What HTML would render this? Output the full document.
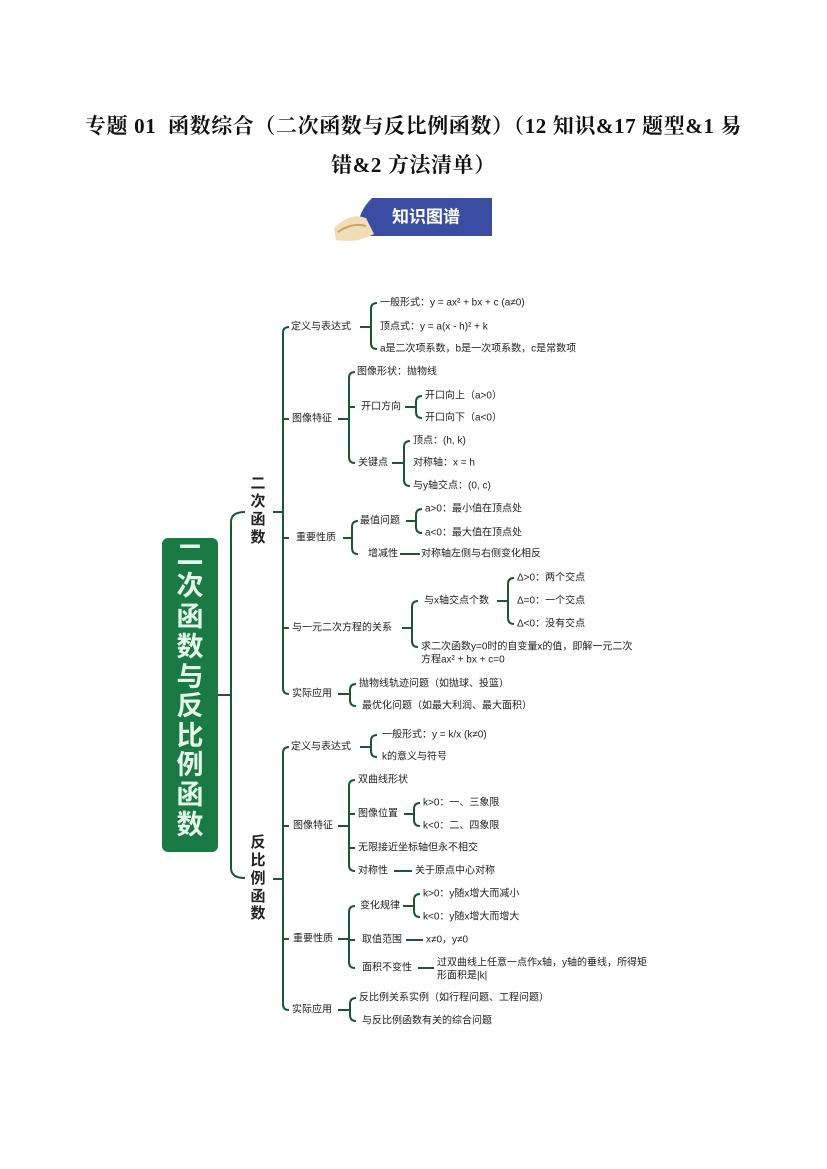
<!DOCTYPE html>
<html><head><meta charset="utf-8"><style>
html,body{margin:0;padding:0;background:#fff}
body{width:827px;height:1169px;position:relative;overflow:hidden}
.t{position:absolute;left:0;width:827px;text-align:center;font-family:"Liberation Serif","Noto Serif CJK SC",serif;font-weight:bold;font-size:21px;letter-spacing:0.6px;color:#111}
svg{position:absolute;left:0;top:0}
</style></head><body>
<div class="t" style="top:110px">专题 01&nbsp; 函数综合（二次函数与反比例函数）（12 知识&amp;17 题型&amp;1 易</div>
<div class="t" style="top:149px">错&amp;2 方法清单）</div>
<svg width="827" height="1169" viewBox="0 0 827 1169" font-family="Liberation Sans, Noto Sans CJK SC, sans-serif">
<path d="M372 198 H492 V236 H360 Q354 216 372 198 Z" fill="#3b4ca3"/>
<path d="M334 228 Q350 212 366 218 L374 234 Q356 244 336 240 Z" fill="#f1dcb8"/>
<path d="M338 232 Q352 222 366 226" stroke="#c9a36d" stroke-width="2" fill="none"/>
<text x="426" y="218" font-size="17" font-weight="bold" fill="#fff" text-anchor="middle" dominant-baseline="middle">知识图谱</text>
<rect x="162" y="538" width="56" height="314" rx="6" fill="#1a7a45"/>
<g font-size="27" font-weight="bold" fill="#e6f7ea" text-anchor="middle" dominant-baseline="middle">
<text x="190" y="557">二</text><text x="190" y="588">次</text><text x="190" y="619">函</text><text x="190" y="649">数</text><text x="190" y="679">与</text><text x="190" y="708">反</text><text x="190" y="738">比</text><text x="190" y="767">例</text><text x="190" y="797">函</text><text x="190" y="827">数</text>
</g>
<g stroke="#1e5538" stroke-width="2" fill="none">
<path d="M218 695 H231 M245 512 Q231 512 231 522 V868 Q231 878 245 878"/>
<path d="M273 512 H283 M289 327 Q283 327 283 333 V688 Q283 694 289 694 M283 419 H289 M283 538 H289 M283 628 H289"/>
<path d="M360 327 H371 M377 303 Q371 303 371 309 V343 Q371 349 377 349"/>
<path d="M338 419 H349 M355 372 Q349 372 349 378 V457 Q349 463 355 463 M349 407 H355"/>
<path d="M405 407 H416 M422 396 Q416 396 416 402 V412 Q416 418 422 418"/>
<path d="M392 463 H404 M410 441 Q404 441 404 447 V480 Q404 486 410 486"/>
<path d="M343 538 H352 M358 521 Q352 521 352 527 V548 Q352 554 358 554"/>
<path d="M406 521 H416 M422 509 Q416 509 416 515 V527 Q416 533 422 533"/>
<path d="M400 554 H420"/>
<path d="M402 628 H412 M418 601 Q412 601 412 607 V641 Q412 647 418 647"/>
<path d="M497 601 H508 M514 578 Q508 578 508 584 V618 Q508 624 514 624"/>
<path d="M338 694 H350 M356 684 Q350 684 350 690 V700 Q350 706 356 706"/>
<path d="M273 879 H283 M289 747 Q283 747 283 753 V1004 Q283 1010 289 1010 M283 826 H289 M283 939 H289"/>
<path d="M360 747 H371 M377 735 Q371 735 371 741 V751 Q371 757 377 757"/>
<path d="M338 826 H349 M355 780 Q349 780 349 786 V865 Q349 871 355 871 M349 814 H355 M349 848 H355"/>
<path d="M404 814 H414 M420 803 Q414 803 414 809 V820 Q414 826 420 826"/>
<path d="M394 871 H412"/>
<path d="M338 939 H349 M355 906 Q349 906 349 912 V962 Q349 968 355 968 M349 940 H355"/>
<path d="M403 906 H414 M420 894 Q414 894 414 900 V911 Q414 917 420 917"/>
<path d="M406 940 H423"/>
<path d="M418 968 H434"/>
<path d="M338 1010 H350 M356 998 Q350 998 350 1004 V1015 Q350 1021 356 1021"/>
</g>
<g font-size="15" font-weight="bold" fill="#222" text-anchor="middle" dominant-baseline="middle">
<text x="258" y="484">二</text><text x="258" y="502">次</text><text x="258" y="520">函</text><text x="258" y="538">数</text>
<text x="258" y="843">反</text><text x="258" y="861">比</text><text x="258" y="879">例</text><text x="258" y="897">函</text><text x="258" y="914">数</text>
</g>
<g font-size="10" fill="#222" dominant-baseline="middle">
<text x="291" y="327">定义与表达式</text>
<text x="380" y="303">一般形式：y = ax² + bx + c (a≠0)</text>
<text x="380" y="327">顶点式：y = a(x - h)² + k</text>
<text x="380" y="349">a是二次项系数，b是一次项系数，c是常数项</text>
<text x="292" y="419">图像特征</text>
<text x="357" y="372">图像形状：抛物线</text>
<text x="361" y="407">开口方向</text>
<text x="425" y="396">开口向上（a&gt;0）</text>
<text x="425" y="418">开口向下（a&lt;0）</text>
<text x="358" y="463">关键点</text>
<text x="413" y="441">顶点：(h, k)</text>
<text x="413" y="463">对称轴：x = h</text>
<text x="413" y="486">与y轴交点：(0, c)</text>
<text x="296" y="538">重要性质</text>
<text x="360" y="521">最值问题</text>
<text x="425" y="509">a&gt;0：最小值在顶点处</text>
<text x="425" y="533">a&lt;0：最大值在顶点处</text>
<text x="368" y="554">增减性</text>
<text x="421" y="554">对称轴左侧与右侧变化相反</text>
<text x="292" y="628">与一元二次方程的关系</text>
<text x="424" y="601">与x轴交点个数</text>
<text x="517" y="578">Δ&gt;0：两个交点</text>
<text x="517" y="601">Δ=0：一个交点</text>
<text x="517" y="624">Δ&lt;0：没有交点</text>
<text x="421" y="647">求二次函数y=0时的自变量x的值，即解一元二次</text>
<text x="421" y="660">方程ax² + bx + c=0</text>
<text x="292" y="694">实际应用</text>
<text x="359" y="684">抛物线轨迹问题（如抛球、投篮）</text>
<text x="362" y="706">最优化问题（如最大利润、最大面积）</text>
<text x="291" y="747">定义与表达式</text>
<text x="382" y="735">一般形式：y = k/x (k≠0)</text>
<text x="382" y="757">k的意义与符号</text>
<text x="293" y="826">图像特征</text>
<text x="358" y="780">双曲线形状</text>
<text x="358" y="814">图像位置</text>
<text x="423" y="803">k&gt;0：一、三象限</text>
<text x="423" y="826">k&lt;0：二、四象限</text>
<text x="358" y="848">无限接近坐标轴但永不相交</text>
<text x="358" y="871">对称性</text>
<text x="415" y="871">关于原点中心对称</text>
<text x="293" y="939">重要性质</text>
<text x="360" y="906">变化规律</text>
<text x="423" y="894">k&gt;0：y随x增大而减小</text>
<text x="423" y="917">k&lt;0：y随x增大而增大</text>
<text x="362" y="940">取值范围</text>
<text x="426" y="940">x≠0，y≠0</text>
<text x="362" y="968">面积不变性</text>
<text x="437" y="963">过双曲线上任意一点作x轴，y轴的垂线，所得矩</text>
<text x="437" y="976">形面积是|k|</text>
<text x="292" y="1010">实际应用</text>
<text x="359" y="998">反比例关系实例（如行程问题、工程问题）</text>
<text x="362" y="1021">与反比例函数有关的综合问题</text>
</g>
</svg>
</body></html>
